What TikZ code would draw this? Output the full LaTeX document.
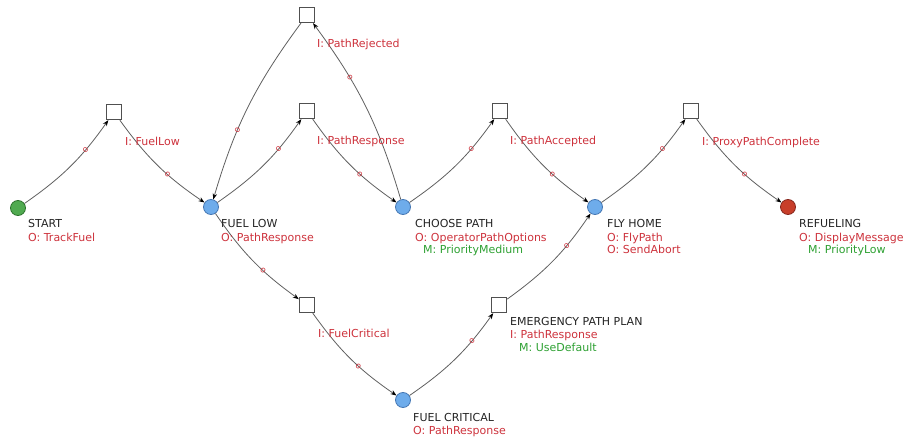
\documentclass[tikz,border=0pt]{standalone}
\usepackage{fontspec}
\setmainfont{DejaVu Sans}
\usetikzlibrary{arrows.meta}

\definecolor{edgegray}{RGB}{95,95,95}
\definecolor{boxgray}{RGB}{80,80,80}
\definecolor{txtdark}{RGB}{35,35,35}
\definecolor{txtred}{RGB}{205,50,60}
\definecolor{txtgreen}{RGB}{45,160,50}
\definecolor{stgreen}{RGB}{80,170,80}
\definecolor{stgreendark}{RGB}{45,115,45}
\definecolor{stblue}{RGB}{110,172,235}
\definecolor{stbluedark}{RGB}{70,120,180}
\definecolor{stred}{RGB}{200,62,42}
\definecolor{streddark}{RGB}{135,40,30}

\begin{document}
\begin{tikzpicture}[x=1pt,y=1pt,
  state/.style={circle, line width=0.8pt, minimum size=15pt, inner sep=0pt},
  initst/.style={state, fill=stgreen, draw=stgreendark},
  midst/.style={state, fill=stblue, draw=stbluedark},
  finst/.style={state, fill=stred, draw=streddark},
  port/.style={rectangle, draw=boxgray, fill=white, line width=0.8pt, minimum size=15.5pt, inner sep=0pt},
  flow/.style={draw=edgegray, line width=0.8pt, -{Stealth[length=6pt,width=4.5pt,color=black]}, bend right=10},
  omark/.style={font=\fontsize{8.5}{8.5}\selectfont, text=txtred, sloped, inner sep=0pt},
  ttl/.style={font=\fontsize{11}{13}\selectfont, text=txtdark, anchor=base west, inner sep=0pt},
  outl/.style={ttl, text=txtred},
  modl/.style={ttl, text=txtgreen},
]
\useasboundingbox (0,0) rectangle (906,440);

% states and interface boxes
\node[initst] (start)    at (18,232) {};
\node[port]   (sqA)      at (114,328) {};
\node[midst]  (fuellow)  at (211,233) {};
\node[port]   (sqRej)    at (307,425) {};
\node[port]   (sqResp)   at (307,329) {};
\node[midst]  (choose)   at (403,233) {};
\node[port]   (sqAcc)    at (500,329) {};
\node[midst]  (flyhome)  at (595,233) {};
\node[port]   (sqProxy)  at (691,329) {};
\node[finst]  (refuel)   at (788,233) {};
\node[port]   (sqCrit)   at (307,135) {};
\node[midst]  (fuelcrit) at (403,40) {};
\node[port]   (sqEmerg)  at (499,135) {};

% transitions
\draw[flow] (start)    to node[omark, pos=0.7]  {o} (sqA);
\draw[flow] (sqA)      to node[omark, pos=0.62] {o} (fuellow);
\draw[flow] (fuellow)  to node[omark, pos=0.7]  {o} (sqResp);
\draw[flow] (sqResp)   to node[omark, pos=0.62] {o} (choose);
\draw[flow] (choose)   to node[omark, pos=0.68] {o} (sqRej);
\draw[flow] (sqRej)    to node[omark, pos=0.64] {o} (fuellow);
\draw[flow] (choose)   to node[omark, pos=0.7]  {o} (sqAcc);
\draw[flow] (sqAcc)    to node[omark, pos=0.62] {o} (flyhome);
\draw[flow] (flyhome)  to node[omark, pos=0.7]  {o} (sqProxy);
\draw[flow] (sqProxy)  to node[omark, pos=0.62] {o} (refuel);
\draw[flow] (fuellow)  to node[omark, pos=0.63] {o} (sqCrit);
\draw[flow] (sqCrit)   to node[omark, pos=0.6]  {o} (fuelcrit);
\draw[flow] (fuelcrit) to node[omark, pos=0.72] {o} (sqEmerg);
\draw[flow] (sqEmerg)  to node[omark, pos=0.68] {o} (flyhome);

% input labels
\node[outl] (inFuelLow)  at (125,294) {I: FuelLow};
\node[outl] (inRej)      at (317,392) {I: PathRejected};
\node[outl] (inResp)     at (317,295) {I: PathResponse};
\node[outl] (inAcc)      at (510,295) {I: PathAccepted};
\node[outl] (inProxy)    at (702,294) {I: ProxyPathComplete};
\node[outl] (inCrit)     at (318,103) {I: FuelCritical};

% state captions
\node[ttl]  (startT)  at (28,212) {START};
\node[outl] (startO)  at (28,199) {O: TrackFuel};

\node[ttl]  (fuellowT) at (221,212) {FUEL LOW};
\node[outl] (fuellowO) at (221,199) {O: PathResponse};

\node[ttl]  (chooseT) at (415,212) {CHOOSE PATH};
\node[outl] (chooseO) at (415,199) {O: OperatorPathOptions};
\node[modl] (chooseM) at (423,186) {M: PriorityMedium};

\node[ttl]  (flyT)  at (607,212) {FLY HOME};
\node[outl] (flyO1) at (607,199) {O: FlyPath};
\node[outl] (flyO2) at (607,186) {O: SendAbort};

\node[ttl]  (refuelT) at (799,212) {REFUELING};
\node[outl] (refuelO) at (799,199) {O: DisplayMessage};
\node[modl] (refuelM) at (808,186) {M: PriorityLow};

\node[ttl]  (emergT) at (510,115) {EMERGENCY PATH PLAN};
\node[outl] (emergI) at (510,102) {I: PathResponse};
\node[modl] (emergM) at (519,89)  {M: UseDefault};

\node[ttl]  (critT) at (413,19) {FUEL CRITICAL};
\node[outl] (critO) at (413,6)  {O: PathResponse};
\end{tikzpicture}
\end{document}
